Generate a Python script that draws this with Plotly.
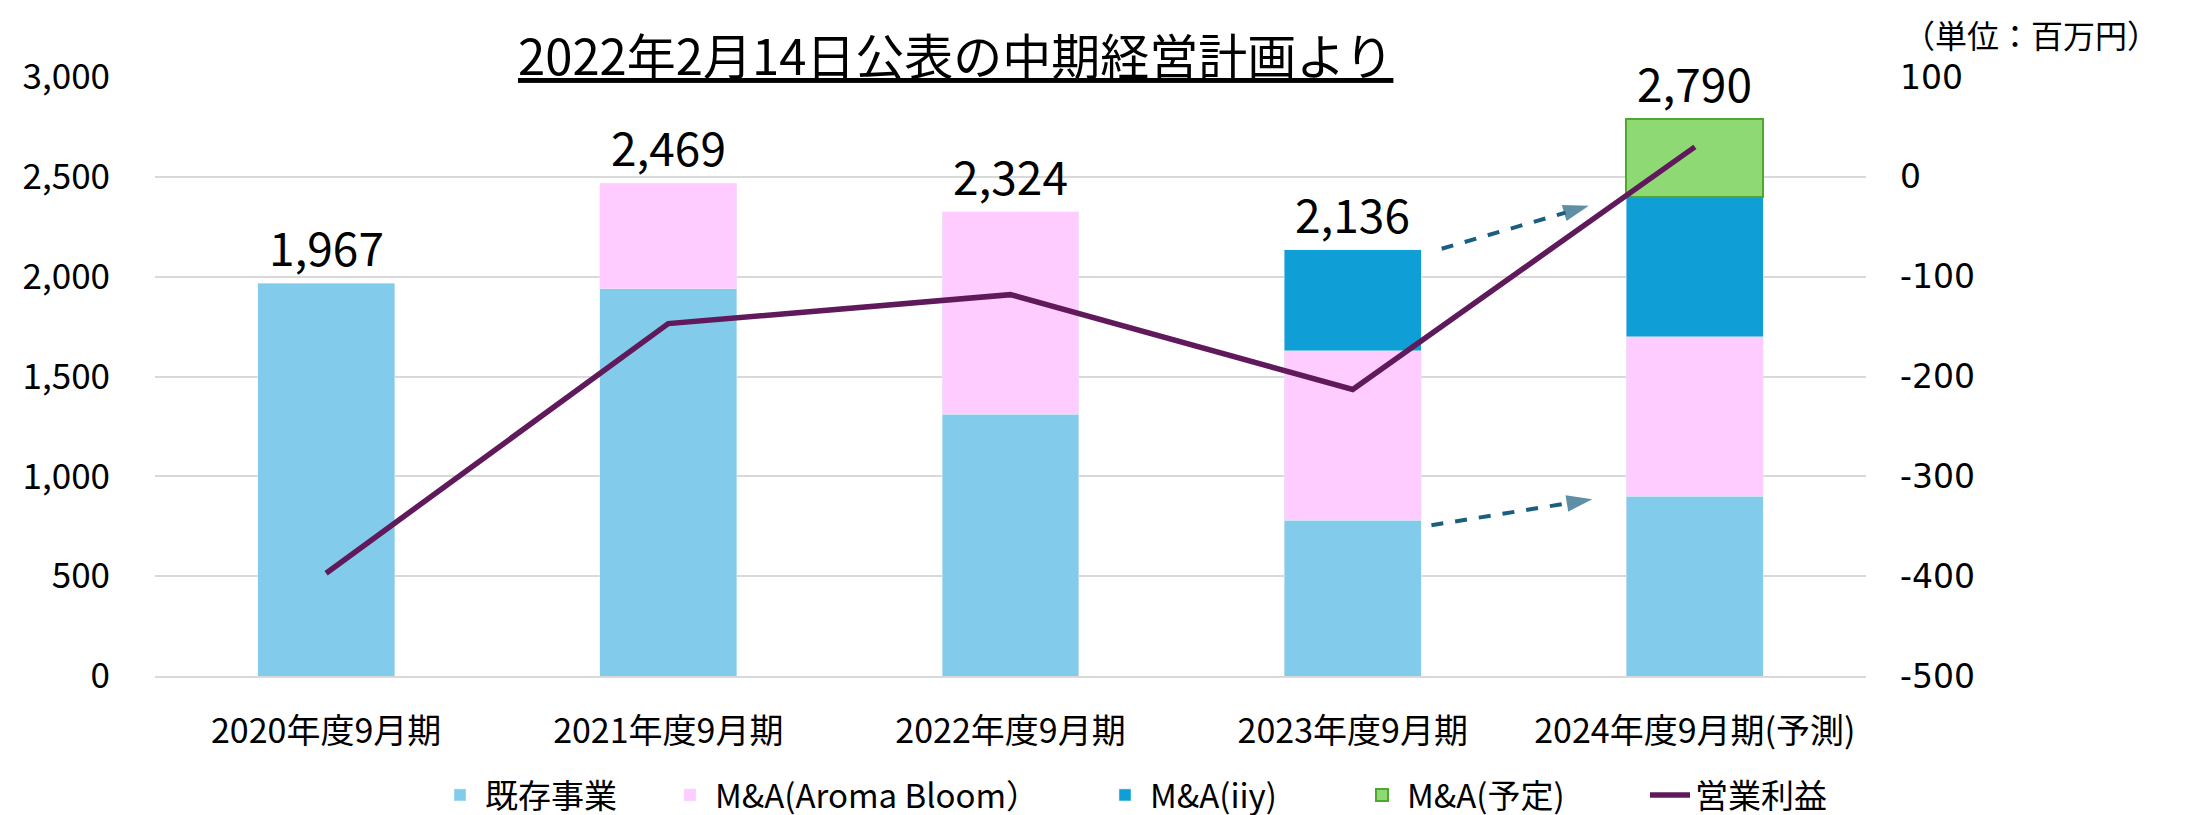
import plotly.graph_objects as go

categories = ["2020年度9月期", "2021年度9月期", "2022年度9月期", "2023年度9月期", "2024年度9月期(予測)"]
existing = [1967, 1940, 1310, 780, 900]
aroma = [None, 529, 1014, 850, 800]
iiy = [None, None, None, 506, 700]
planned = [None, None, None, None, 390]
totals = [1967, 2469, 2324, 2136, 2790]
op_profit = [-397, -147, -118, -213, 30]
right_ticks = [-500, -400, -300, -200, -100, 0, 100]
right_ticktext = ["-500", "-400", "-300", "-200", "-100", "0", "100"]

arrow_upper_x = [3.26, 3.69]
arrow_upper_y = [2140, 2355]
arrow_lower_x = [3.23, 3.70]
arrow_lower_y = [755, 885]

FONT = "Noto Sans CJK JP"
xs = list(range(len(categories)))

fig = go.Figure()
fig.add_trace(go.Bar(x=xs, y=existing, name="既存事業", marker=dict(color="#83CBEB"), width=0.4,
                     legend="legend"))
fig.add_trace(go.Bar(x=xs, y=aroma, name="M&A(Aroma Bloom）", marker=dict(color="#FFCCFF"), width=0.4,
                     legend="legend2"))
fig.add_trace(go.Bar(x=xs, y=iiy, name="M&A(iiy)", marker=dict(color="#0F9ED5"), width=0.4,
                     legend="legend3"))
fig.add_trace(go.Bar(x=xs, y=planned, name="M&A(予定)",
                     marker=dict(color="#8ED973", line=dict(color="#4EA72E", width=2)), width=0.4,
                     legend="legend4"))
fig.add_trace(go.Scatter(x=xs, y=op_profit, name="営業利益", yaxis="y2", mode="lines",
                         line=dict(color="#601A5C", width=5.5), legend="legend5"))

for ax, ay in [(arrow_upper_x, arrow_upper_y), (arrow_lower_x, arrow_lower_y)]:
    fig.add_trace(go.Scatter(x=ax, y=ay, mode="lines+markers", showlegend=False, hoverinfo="skip",
                             line=dict(color="#1A5F80", width=4, dash="dash"),
                             marker=dict(symbol="arrow", size=[0, 27], angleref="previous",
                                         color="#1A5F80", line=dict(width=0))))

for i, t in enumerate(totals):
    fig.add_annotation(x=xs[i], y=t, text=f"{t:,}", showarrow=False, yanchor="bottom", yshift=2,
                       font=dict(size=46, color="#000000", family=FONT))

fig.add_annotation(xref="paper", yref="paper", x=0.468, y=1.04, yanchor="middle",
                   text="<u>2022年2月14日公表の中期経営計画より</u>", showarrow=False,
                   font=dict(size=49, color="#000000", family=FONT))
fig.add_annotation(xref="paper", yref="paper", x=1.1724, y=1.072, xanchor="right", yanchor="middle",
                   text="（単位：百万円）", showarrow=False,
                   font=dict(size=32, color="#000000", family=FONT))

legend_text_starts = [477, 707, 1142, 1399, 1687]
legend_common = dict(orientation="h", xref="container", yref="container", y=0.0,
                     xanchor="left", yanchor="bottom", font=dict(size=33), itemwidth=40,
                     bgcolor="rgba(0,0,0,0)")
legend_layout = {}
for k, ts in enumerate(legend_text_starts):
    key = "legend" if k == 0 else f"legend{k + 1}"
    legend_layout[key] = dict(legend_common, x=(ts - 50) / 2185)

fig.update_layout(
    width=2185, height=815,
    barmode="stack",
    plot_bgcolor="white", paper_bgcolor="white",
    margin=dict(l=147, r=327, t=69, b=147, autoexpand=False),
    font=dict(family=FONT, size=34, color="#000000"),
    xaxis=dict(tickvals=xs, ticktext=categories, range=[-0.5, 4.5], showgrid=False,
               showline=True, linecolor="#D9D9D9", linewidth=2, ticks="", ticklabelstandoff=24,
               tickfont=dict(size=34)),
    yaxis=dict(range=[0, 3000], dtick=500, tickformat=",", showgrid=True, gridcolor="#D9D9D9",
               gridwidth=2, zeroline=False, ticks="", ticklabelstandoff=44, tickfont=dict(size=35)),
    yaxis2=dict(range=[-500, 100], tickvals=right_ticks, ticktext=right_ticktext, overlaying="y",
                side="right", showgrid=False, zeroline=False, ticks="", ticklabelstandoff=33,
                tickfont=dict(size=33, family="DejaVu Sans")),
    showlegend=True,
    **legend_layout,
)

fig.write_html("out.html")
